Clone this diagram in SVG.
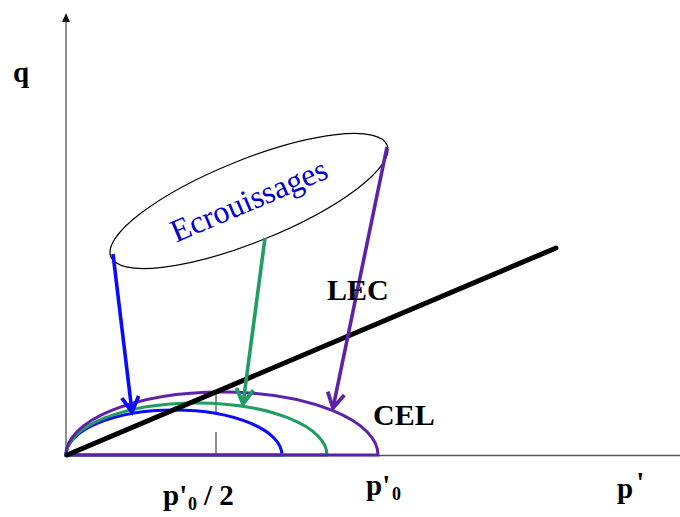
<svg xmlns="http://www.w3.org/2000/svg" width="680" height="517" viewBox="0 0 680 517">
<style>
.axis{stroke:#555;stroke-width:1.3;fill:none}
.lbl{font-family:"Liberation Serif","Times New Roman",serif;font-weight:bold;fill:#000}
.cur{fill:none;stroke-width:3}
.arr{fill:none;stroke-width:3.6}
</style>
<defs>
<marker id="hb" viewBox="-20 -12 24 24" markerWidth="24" markerHeight="24" refX="0" refY="0" orient="auto" markerUnits="userSpaceOnUse"><path d="M-15,-8.5 L0,0 L-15,8.5" fill="none" stroke="#0a0aff" stroke-width="3.8"/></marker>
<marker id="hg" viewBox="-20 -12 24 24" markerWidth="24" markerHeight="24" refX="0" refY="0" orient="auto" markerUnits="userSpaceOnUse"><path d="M-15,-8.5 L0,0 L-15,8.5" fill="none" stroke="#1f9e62" stroke-width="3.8"/></marker>
<marker id="hp" viewBox="-20 -12 24 24" markerWidth="24" markerHeight="24" refX="0" refY="0" orient="auto" markerUnits="userSpaceOnUse"><path d="M-15,-8.5 L0,0 L-15,8.5" fill="none" stroke="#5e22a8" stroke-width="3.8"/></marker>
</defs>
<rect width="680" height="517" fill="#fff"/>
<g id="axes">
<line class="axis" x1="66" y1="20" x2="66" y2="456"/>
<polygon points="66,13 62,22 70,22" fill="#111"/>
<line class="axis" x1="66" y1="455.5" x2="680" y2="455.5"/>
<line x1="216" y1="392" x2="216" y2="415" stroke="#222" stroke-width="1"/>
<line x1="216" y1="432" x2="216" y2="455" stroke="#222" stroke-width="1"/>
</g>
<g id="curve-blue"><path class="cur" stroke="#0a0aff" d="M66,455 A108,45 0 0 1 282,455 Z"/></g>
<g id="curve-green"><path class="cur" stroke="#1f9e62" d="M66,455 A130.5,52 0 0 1 327,455 Z"/></g>
<g id="curve-CEL"><path class="cur" stroke="#5e22a8" d="M66,455 A156,63 0 0 1 378,455 Z"/></g>
<g id="LEC"><line x1="67" y1="455" x2="556" y2="248" stroke="#000" stroke-width="5" stroke-linecap="round"/></g>
<g id="ecrouissages">
<ellipse cx="249" cy="201" rx="149" ry="41" transform="rotate(-22 249 201)" fill="none" stroke="#000" stroke-width="1.2"/>
<text transform="translate(253 210) rotate(-23)" text-anchor="middle" font-family="Liberation Serif,'Times New Roman',serif" font-size="32" fill="#0000cc">Ecrouissages</text>
</g>
<g id="connectors">
<line class="arr" stroke="#0a0aff" x1="113" y1="254" x2="132" y2="412" marker-end="url(#hb)"/>
<line class="arr" stroke="#1f9e62" x1="265" y1="238" x2="243" y2="404" marker-end="url(#hg)"/>
<line class="arr" stroke="#5e22a8" x1="387" y1="147" x2="333" y2="408" marker-end="url(#hp)"/>
</g>
<g id="labels">
<text class="lbl" x="13" y="82" font-size="29">q</text>
<text class="lbl" x="327" y="300" font-size="30">LEC</text>
<text class="lbl" x="373" y="425" font-size="30">CEL</text>
<text class="lbl" x="163" y="505" font-size="29">p'<tspan x="188" dy="5" font-size="18">0</tspan><tspan x="204" dy="-5">/ 2</tspan></text>
<text class="lbl" x="366" y="495" font-size="29">p'<tspan x="392" dy="5" font-size="18">0</tspan></text>
<text class="lbl" x="617" y="498" font-size="29">p<tspan dx="3" dy="-6">'</tspan></text>
</g>
</svg>
